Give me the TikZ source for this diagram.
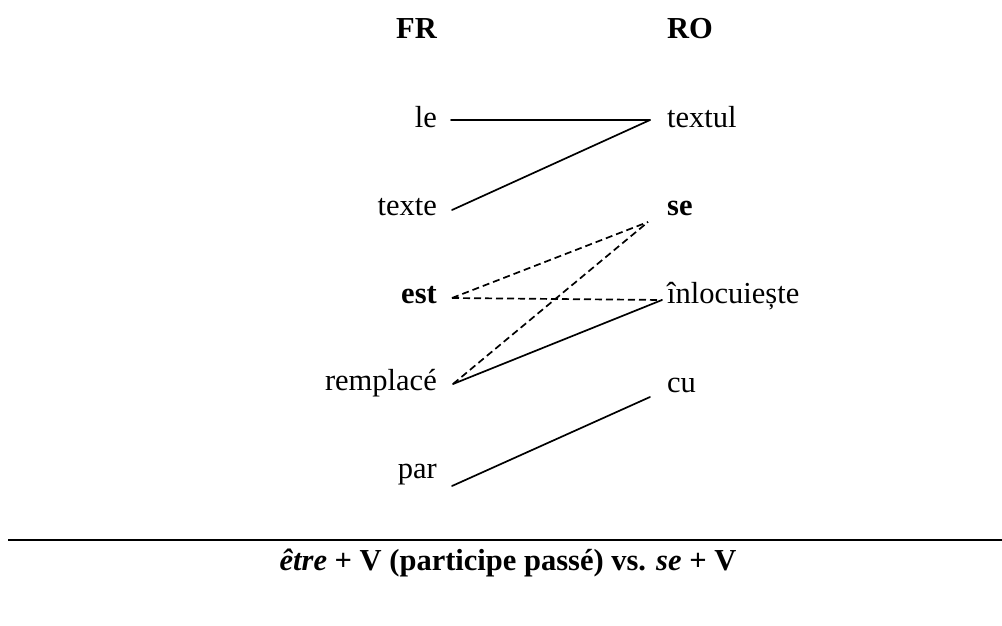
\documentclass[tikz,border=0pt]{standalone}
\usepackage{fontspec}
\setmainfont{Liberation Serif}
\usepackage{tikz}
\usetikzlibrary{calc}

\begin{document}
\begin{tikzpicture}[
  x=1pt, y=-1pt,
  w/.style={inner sep=0pt, font=\fontsize{30.5}{36}\selectfont},
  fr/.style={w, anchor=base east}, ro/.style={w, anchor=base west},
  e/.style={line width=1.7pt, line cap=round},
  ed/.style={e, dash pattern=on 7pt off 4pt, line cap=butt}
]
\useasboundingbox (0,0) rectangle (1002,626);
% column heads
\node[fr, font=\fontsize{30.5}{36}\selectfont\bfseries] (hfr) at (437,39) {FR};
\node[ro, font=\fontsize{30.5}{36}\selectfont\bfseries] (hro) at (667,39) {RO};
% french words
\node[fr] (le) at (437,127) {le};
\node[fr] (texte) at (437,215) {texte};
\node[fr] (est) at (437,303) {\textbf{est}};
\node[fr] (remplace) at (437,390) {remplacé};
\node[fr] (par) at (437,478) {par};
% romanian words
\node[ro] (textul) at (667,127) {textul};
\node[ro] (se) at (667,215) {\textbf{se}};
\node[ro] (inloc) at (667,303) {înlocuiește};
\node[ro] (cu) at (667,392) {cu};
% link ends
\coordinate (le-a) at (451,120);
\coordinate (texte-a) at (452,210);
\coordinate (est-a) at (452,298);
\coordinate (remplace-a) at (453,384);
\coordinate (par-a) at (452,486);
\coordinate (textul-a) at (650,120);
\coordinate (se-a) at (648,222);
\coordinate (inloc-a) at (662,300);
\coordinate (cu-a) at (650,397);
\draw[e] (le-a) -- (textul-a);
\draw[e] (texte-a) -- (textul-a);
\draw[ed] (est-a) -- (se-a);
\draw[ed] (est-a) -- (inloc-a);
\draw[ed] (remplace-a) -- (se-a);
\draw[e] (remplace-a) -- (inloc-a);
\draw[e] (par-a) -- (cu-a);
% caption
\coordinate (rl) at (8,540);
\coordinate (rr) at (1002,540);
\draw[line width=2pt] (rl) -- (rr);
\node[w, anchor=base, font=\fontsize{30.5}{36}\selectfont\bfseries] (cap) at (508,570)
  {\textit{être} + V (participe passé) vs. \textit{se} + V};
\end{tikzpicture}
\end{document}
